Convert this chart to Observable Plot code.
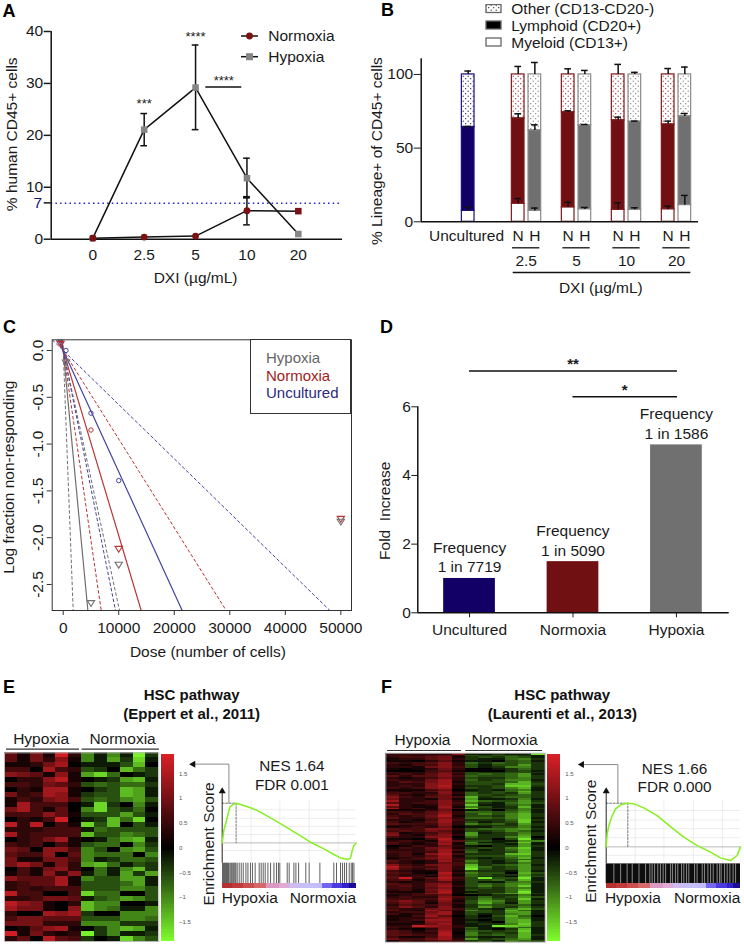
<!DOCTYPE html>
<html><head><meta charset="utf-8">
<script src="https://cdn.jsdelivr.net/npm/d3@7"></script>
<script src="https://cdn.jsdelivr.net/npm/@observablehq/plot@0.6"></script>
<style>
html,body{margin:0;padding:0;background:#fff}
#page{position:relative;width:744px;height:944px;overflow:hidden;font-family:'Liberation Sans',Arial,sans-serif;color:#1a1a1a}
.t{position:absolute;white-space:pre;line-height:18px}
.letter{position:absolute;font-weight:bold;font-size:18px;line-height:18px;color:#000}
.head{position:absolute;font-weight:bold;font-size:15px;line-height:19px;text-align:center;transform:translateX(-50%);white-space:pre;color:#111}
</style></head><body><div id="page"></div>
<script>
// ---------- Panel A ----------
const aDoses = ["0","2.5","5","10","20"];
const aNormoxia = [0.2,0.4,0.6,5.5,5.4];
const aHypoxia = [0.2,21.1,29.2,11.75,1.0];
const aHypoxiaLow = [null,18.0,21.1,8.0,null];
const aHypoxiaHigh = [null,24.2,37.4,15.6,null];
const aNormoxiaLow = [null,null,null,2.76,null];
const aNormoxiaHigh = [null,null,null,8.1,null];
const aStars = [{x:1,y:26.0,s:"***"},{x:2,y:39.0,s:"****"},{x:2.55,y:30.5,s:"****"}];
// ---------- Panel B ----------
const bPos = [0,3,4,6,7,9,10,12,13];
const bLetter = ["U","N","H","N","H","N","H","N","H"];
const bMyeloid = [7.4,12.2,7.4,9.7,8.4,8.1,8.1,8.4,11.3];
const bMyeloidErr = [9.9,15.8,9.3,13.3,9.7,12.9,9.5,10.6,17.9];
const bLymphTop = [64.3,70.1,62,74.2,65.4,68.8,67.9,66,71.5];
const bLymphErr = [64.7,73.3,65.8,75.3,66,71,68.3,68.3,73.5];
const bTotalErr = [102.3,105.4,108.1,103.8,102.7,106.8,101.4,104,105];
const bDoseCentres = [3.48,6.5,9.5,12.5];
const bDoseLabels = ["2.5","5","10","20"];
// ---------- Panel C ----------
const cGroups = ["Hypoxia","Normoxia","Uncultured"];
const cColors = {Hypoxia:"#707070",Normoxia:"#b83434",Uncultured:"#44449f"};
const cBottom = -2.778;
const cFitHypoxia = [4442,1800,10144];
const cFitNormoxia = [14046,6843,29350];
const cFitUncultured = [21430,9424,48019];
const cDose = [500,5000,10000,5000,10000,10000,5000,50000,50000,-480,500];
const cLogFrac = [0,-0.67,-1.39,-0.85,-2.12,-2.29,-2.7,-1.8,-1.83,0.07,-0.13];
const cGroupOf = ["Uncultured","Uncultured","Uncultured","Normoxia","Normoxia","Hypoxia","Hypoxia","Normoxia","Hypoxia","Normoxia","Hypoxia"];
const cShape = ["o","o","o","o","v","v","v","v","v","v","v"];
// ---------- Panel D ----------
const dNames = ["Uncultured","Normoxia","Hypoxia"];
const dFold = [1,1.49,4.89];
const dFreq = ["1 in 7719","1 in 5090","1 in 1586"];
const dColors = ["#120066","#701012","#707070"];
// ---------- Heat maps: level 0-9 per cell, red for the first six, green for the last six ----------
const heatE = ["415192|515192","415261|516281","112570|111370","330732|320742","654161|684012","022681|012671","332542|343442","021771|023761","523761|233761","132563|343563","173330|182051","573140|583240","333641|333631","021390|127480","828031|837031","222333|143333","723333|733543","023571|014671","323031|344052","540663|530563","433604|544405","511553|512443","575152|674132","031562|041572","131626|141626","644471|533661","234471|333461","232333|333553","833003|844003","223554|134653","865102|755001","755106|754115","200767|200555","355444|333554","555222|555222","014671|025761","915212|925112","240843|201853"];
const heatF = ["222226|112119","332342|323321","233451|232431","122452|211452","110241|110341","323462|424342","213362|313362","221563|312552","101252|001242","000341|000231","322353|322332","232462|343461","424463|433462","212352|322452","322572|423551","243571|333472","222672|332773","232681|223882","323671|323571","111350|121451","212461|223472","332262|423262","421351|432342","632453|723442","522151|611251","722362|743362","423363|521463","821262|811351","421171|531271","723163|822252","111250|120351","332462|443461","243472|353572","323581|332572","422462|443571","221373|222482","312472|312381","433362|534262","212261|222252","123250|113351","433662|344562","343541|323541","512351|612352","621462|622362","322660|422570","110381|220391","232174|331165","421361|511381","321271|432161","013252|102262","132561|232581","222473|312471","332371|422372","231683|222782","232471|333562","123572|212471","233463|322342","421272|521372","321253|421252","632563|723461","843362|842362","732462|932362","321161|322161","431082|533073","322271|432262","433072|422073","492483|393391","341372|334271","212341|311452","432561|343561","342572|353581","332461|232451","231571|322471","111481|122491","323671|324682","123350|012251","232263|242363","333372|253281","464261|365262","354152|374162","243351|243341","364261|263252","322563|321573","421742|532741","233571|332661","312671|312561","113740|203740","122561|212651","123771|102671","221661|210672","112571|122582","229762|119872","324562|412541","210261|310271","431371|432381","432280|523271","443381|534372","311371|311371","533572|623461","132343|231543"];
const colorTicks = [1.5,1,0.5,0,-0.5,-1,-1.5];
// ---------- GSEA ----------
const gseaRankE = [0,1.2,3.2,5.7,7.5,10.4,13.7,21.1,26.1,36.1,46,56,65.9,75.9,83.3,88.3,93.8,95.8,97,98.3,100];
const gseaEsE = [0,.187,.338,.54,.57,.6,.58,.53,.49,.378,.262,.136,.01,-.091,-.176,-.227,-.252,-.227,-.116,-.04,0];
const gseaHitsE = [0.2,1,1.7,2.5,3.2,4,4.7,5.7,6.5,7.2,8,8.7,9.5,10.2,11.2,12.7,14.2,15.7,17.7,19.2,21.1,22.6,24.6,27.6,29.1,30.6,32.1,34.1,36.1,38.6,40.5,42,43,48.5,50,53.5,55,57,62.4,64.9,72.9,83.3,85.3,88.3,89.8,91.3,92.8,94.8,96.3,97.3,98.3];
const gseaRankF = [0,.7,2,4.5,7,10.7,15.6,20.6,28,37.9,47.9,57.8,67.8,77.7,85.1,92.6,97.5,100];
const gseaEsF = [0,.179,.293,.43,.522,.577,.6,.591,.536,.43,.279,.133,.018,-.073,-.151,-.188,-.119,0];
const gseaGapsF = [5.7,10.7,15.6,19.4,24.4,29.3,32.5,34.2,36,38.4,40.4,42.4,44.2,47.9,49.4,51.6,53.3,56.1,57.8,59.8,61.5,65.8,67.7,71.5,73.2,75.7,77.7,79.7,82.6,84.4,85.6,88.1,90.1,92.1,94.5,96.3];
const stripEdges = [0,8,16,24,33,43,50,58,68,75,82,90,95,100];
const stripColors = ["#b5312f","#c03c3c","#c9504f","#d4686a","#dc98c0","#e0aad4","#cdbcf0","#c6bef6","#c2bcf8","#7466ee","#4a3ae0","#3322cc","#1b0c96"];

// ---------- helpers ----------
const page = document.getElementById("page");
const FONT = "'Liberation Sans',Arial,sans-serif";
const baseStyle = {fontFamily:FONT,fontSize:"15px",color:"#1a1a1a",background:"transparent",overflow:"visible"};
function put(node,x,y){node.style.position="absolute";node.style.left=x+"px";node.style.top=y+"px";page.appendChild(node);return node;}
function html(cls,x,y,txt,extra){const d=document.createElement("div");d.className=cls;d.style.left=x+"px";d.style.top=y+"px";d.textContent=txt;if(extra)Object.assign(d.style,extra);page.appendChild(d);return d;}
const FS = 15.5;
const downTri = {draw(c,size){const r=Math.sqrt(size/Math.PI)*1.15;c.moveTo(-r,-r*0.7);c.lineTo(r,-r*0.7);c.lineTo(0,r*0.9);c.closePath();}};

// ---------- A ----------
{
  const rows = aDoses.map((d,i)=>({i,n:aNormoxia[i],h:aHypoxia[i],hl:aHypoxiaLow[i],hh:aHypoxiaHigh[i],nl:aNormoxiaLow[i],nh:aNormoxiaHigh[i]}));
  const eh = rows.filter(d=>d.hl!=null), en = rows.filter(d=>d.nl!=null);
  const p = Plot.plot({width:372,height:300,marginLeft:50.7,marginRight:30,marginTop:31,marginBottom:61.3,style:baseStyle,
    x:{domain:[-0.81,4.86]},y:{domain:[0,40]},
    marks:[
      Plot.ruleY([6.93],{stroke:"#2323c8",strokeDasharray:"1.5,3.2",strokeWidth:1.5}),
      Plot.axisY({ticks:[0,7,10,20,30,40],tickFormat:d=>d===7?"":d,tickSize:7,tickPadding:1,tickStrokeWidth:1.5,strokeWidth:1.5,fontSize:FS,label:null,anchor:"left"}),
      Plot.text(["7"],{frameAnchor:"left",y:6.93,dx:-9,textAnchor:"end",fill:"#15156e",fontSize:FS}),
      Plot.axisX({ticks:[0,1,2,3,4],tickFormat:i=>aDoses[i],tickSize:0,tickPadding:10,fontSize:FS,label:null}),
      Plot.ruleX([-0.81],{y1:0,y2:40,strokeWidth:1.5,stroke:"#111"}),
      Plot.ruleY([0],{strokeWidth:1.5,stroke:"#111"}),
      Plot.line(rows,{x:"i",y:"h",stroke:"#111",strokeWidth:1.5}),
      Plot.line(rows,{x:"i",y:"n",stroke:"#111",strokeWidth:1.5}),
      Plot.ruleX(eh,{x:"i",y1:"hl",y2:"hh",stroke:"#111",strokeWidth:1.5}),
      Plot.ruleY(eh,{y:"hl",x1:d=>d.i-.065,x2:d=>d.i+.065,stroke:"#111",strokeWidth:1.5}),
      Plot.ruleY(eh,{y:"hh",x1:d=>d.i-.065,x2:d=>d.i+.065,stroke:"#111",strokeWidth:1.5}),
      Plot.ruleX(en,{x:"i",y1:"nl",y2:"nh",stroke:"#111",strokeWidth:1.5}),
      Plot.ruleY(en,{y:"nl",x1:d=>d.i-.065,x2:d=>d.i+.065,stroke:"#111",strokeWidth:1.5}),
      Plot.ruleY(en,{y:"nh",x1:d=>d.i-.065,x2:d=>d.i+.065,stroke:"#111",strokeWidth:2.5}),
      Plot.dot(rows,{x:"i",y:"h",symbol:"square",r:3.7,fill:"#858585"}),
      Plot.dot(rows.slice(0,4),{x:"i",y:"n",symbol:"circle",r:3.4,fill:"#7b1113"}),
      Plot.dot(rows.slice(4),{x:"i",y:"n",symbol:"square",r:3.7,fill:"#7b1113"}),
      Plot.text(aStars,{x:"x",y:"y",text:"s",fontSize:13,fill:"#222"}),
      Plot.ruleY([29.3],{x1:2.2,x2:2.9,stroke:"#111",strokeWidth:1.5}),
      Plot.text(["DXI (µg/mL)"],{x:2,y:0,dy:38.5,fontSize:FS}),
      Plot.text(["% human CD45+ cells"],{frameAnchor:"left",y:20.2,dx:-39,textAnchor:"middle",rotate:-90,fontSize:FS})
    ]});
  put(p,0,0);
  const s = d3.create("svg").attr("width",30).attr("height",40);
  s.append("line").attr("x1",1).attr("x2",18).attr("y1",6).attr("y2",6).attr("stroke","#111").attr("stroke-width",1.5);
  s.append("circle").attr("cx",9.5).attr("cy",6).attr("r",3.4).attr("fill","#7b1113");
  s.append("line").attr("x1",1).attr("x2",18).attr("y1",26.7).attr("y2",26.7).attr("stroke","#111").attr("stroke-width",1.5);
  s.append("rect").attr("x",6).attr("y",23.2).attr("width",7).attr("height",7).attr("fill","#858585");
  put(s.node(),240,30);
  html("t",268.3,27,"Normoxia",{fontSize:FS+"px"});
  html("t",268.3,47.5,"Hypoxia",{fontSize:FS+"px"});
}
// ---------- B ----------
function addDots(svg,id,color){
  const defs = d3.select(svg).insert("defs",":first-child");
  const pat = defs.append("pattern").attr("id",id).attr("width",5).attr("height",5).attr("patternUnits","userSpaceOnUse");
  pat.append("rect").attr("width",5).attr("height",5).attr("fill","#fff");
  pat.append("circle").attr("cx",1.2).attr("cy",1.2).attr("r",.6).attr("fill",color);
  pat.append("circle").attr("cx",3.7).attr("cy",3.7).attr("r",.6).attr("fill",color);
}
{
  const col = {U:"#120066",N:"#701012",H:"#707070"};
  const edge = {U:"#1a1080",N:"#7d1a1c",H:"#8a8a8a"};
  const dot = {U:"url(#dotU)",N:"url(#dotN)",H:"url(#dotH)"};
  const rows = bPos.map((x,i)=>({x,g:bLetter[i],my:bMyeloid[i],me:bMyeloidErr[i],ly:bLymphTop[i],le:bLymphErr[i],te:bTotalErr[i]}));
  const cap = k=>Plot.ruleY(rows,{y:k,x1:d=>d.x-.2,x2:d=>d.x+.2,stroke:"#111",strokeWidth:1.5});
  const nh = rows.slice(1);
  const p = Plot.plot({width:372,height:300,marginLeft:48.7,marginRight:46,marginTop:58.3,marginBottom:78.7,style:baseStyle,
    x:{domain:[-2.82,13.82],axis:null},y:{domain:[0,110.6]},color:{type:"identity"},
    marks:[
      Plot.rect(rows,{x1:d=>d.x-.38,x2:d=>d.x+.38,y1:"ly",y2:100,fill:d=>dot[d.g],stroke:d=>edge[d.g],strokeWidth:1.2}),
      Plot.rect(rows,{x1:d=>d.x-.38,x2:d=>d.x+.38,y1:"my",y2:"ly",fill:d=>col[d.g],stroke:d=>edge[d.g],strokeWidth:1.2}),
      Plot.rect(rows,{x1:d=>d.x-.38,x2:d=>d.x+.38,y1:0,y2:"my",fill:"#fff",stroke:d=>edge[d.g],strokeWidth:1.2}),
      Plot.ruleX(rows,{x:"x",y1:"my",y2:"me",stroke:"#111",strokeWidth:1.5}),
      Plot.ruleX(rows,{x:"x",y1:"ly",y2:"le",stroke:"#111",strokeWidth:1.5}),
      Plot.ruleX(rows,{x:"x",y1:100,y2:"te",stroke:"#111",strokeWidth:1.5}),
      cap("me"),cap("le"),cap("te"),
      Plot.axisY({ticks:[0,50,100],tickSize:7,tickPadding:1,tickStrokeWidth:1.5,fontSize:FS,label:null}),
      Plot.ruleX([-2.82],{strokeWidth:1.5,stroke:"#111"}),
      Plot.ruleY([0],{strokeWidth:1.5,stroke:"#111"}),
      Plot.text(["% Lineage+ of CD45+ cells"],{frameAnchor:"left",y:48,dx:-44,textAnchor:"middle",rotate:-90,fontSize:FS}),
      Plot.text(["Uncultured"],{x:-0.1,y:0,dy:14.7,fontSize:FS}),
      Plot.text(nh,{x:"x",y:0,dy:14.7,text:"g",fontSize:FS}),
      Plot.ruleY(bDoseCentres,{y:0,dy:26,x1:d=>d-.82,x2:d=>d+.82,stroke:"#111",strokeWidth:1.3}),
      Plot.text(bDoseLabels,{x:(d,i)=>bDoseCentres[i],y:0,dy:39.3,fontSize:FS}),
      Plot.ruleY([0],{dy:50.7,x1:2.7,x2:13.36,stroke:"#111",strokeWidth:1.3}),
      Plot.text(["DXI (µg/mL)"],{x:7.96,y:0,dy:66,fontSize:FS})
    ]});
  addDots(p,"dotU","#120066");addDots(p,"dotN","#a01416");addDots(p,"dotH","#707070");
  put(p,372,0);
  const sw = d3.create("svg").attr("width",18).attr("height",46);
  addDots(sw.node(),"dotK","#111");
  [["url(#dotK)",4.5],["#000",21],["#fff",38]].forEach(([f,y])=>sw.append("rect").attr("x",1).attr("y",y-4).attr("width",15).attr("height",8).attr("fill",f).attr("stroke","#666").attr("stroke-width",1.3));
  put(sw.node(),485,4);
  html("t",511.3,0,"Other (CD13-CD20-)",{fontSize:FS+"px"});
  html("t",511.3,16.7,"Lymphoid (CD20+)",{fontSize:FS+"px"});
  html("t",511.3,33.7,"Myeloid (CD13+)",{fontSize:FS+"px"});
}
// ---------- C ----------
{
  const fits = [["Hypoxia",cFitHypoxia],["Normoxia",cFitNormoxia],["Uncultured",cFitUncultured]]
    .flatMap(([g,a])=>a.map((xb,k)=>({g,xb,k})));
  const seg = f=>({x1:d=>-d.xb*0.114/2.778,x2:"xb",y1:0.114,y2:cBottom,stroke:d=>cColors[d.g],clip:true,...f});
  const pts = cDose.map((x,i)=>({x,y:cLogFrac[i],g:cGroupOf[i],s:cShape[i]}));
  const p = Plot.plot({width:372,height:345,marginLeft:51.7,marginRight:21,marginTop:24.3,marginBottom:50,style:baseStyle,
    x:{domain:[-1981,51920]},y:{domain:[cBottom,0.114]},color:{type:"identity"},
    marks:[
      Plot.link(fits.filter(d=>d.k===0),seg({strokeWidth:1.2})),
      Plot.link(fits.filter(d=>d.k>0),seg({strokeWidth:1,strokeDasharray:"3.5,2"})),
      Plot.dot(pts.filter(d=>d.s==="o"),{x:"x",y:"y",r:2.2,stroke:d=>cColors[d.g],fill:"none",strokeWidth:1}),
      Plot.dot(pts.filter(d=>d.s==="v"),{x:"x",y:"y",r:3.2,symbol:downTri,stroke:d=>cColors[d.g],fill:"none",strokeWidth:1.1}),
      Plot.frame({stroke:"#333",strokeWidth:1}),
      Plot.axisX({ticks:[0,10000,20000,30000,40000,50000],tickFormat:d=>String(d),tickSize:5,tickPadding:6,fontSize:FS,label:null,stroke:"#333"}),
      Plot.axisY({ticks:[0,-.5,-1,-1.5,-2,-2.5],tickFormat:d=>d.toFixed(1),tickSize:5,tickPadding:4,tickRotate:-90,fontSize:FS,label:null,stroke:"#333"}),
      Plot.text(["Dose (number of cells)"],{x:26050,y:cBottom,dy:41.7,fontSize:FS}),
      Plot.text(["Log fraction non-responding"],{frameAnchor:"left",y:-1.353,dx:-43.5,textAnchor:"middle",rotate:-90,fontSize:FS})
    ]});
  put(p,0,315);
  html("t",250,339.3,"",{width:"101px",height:"75px",border:"1px solid #333",background:"#fff",boxSizing:"border-box"});
  html("t",266,348.7,"Hypoxia",{fontSize:"15px",color:"#666"});
  html("t",266,366.7,"Normoxia",{fontSize:"15px",color:"#a31c20"});
  html("t",266,384.3,"Uncultured",{fontSize:"15px",color:"#2a2a80"});
}
// ---------- D ----------
{
  const rows = dNames.map((n,i)=>({i,n,v:dFold[i],f:"Frequency\n"+dFreq[i],c:dColors[i]}));
  const p = Plot.plot({width:372,height:345,marginLeft:45.3,marginRight:15.3,marginTop:91.3,marginBottom:47.7,style:baseStyle,
    x:{domain:[-0.5,2.51]},y:{domain:[0,6]},color:{type:"identity"},
    marks:[
      Plot.rect(rows,{x1:d=>d.i-.25,x2:d=>d.i+.25,y1:0,y2:"v",fill:"c"}),
      Plot.axisY({ticks:[0,2,4,6],tickFormat:d=>String(d),tickSize:6,tickPadding:1,tickStrokeWidth:1.5,fontSize:FS,label:null}),
      Plot.axisX({ticks:[0,1,2],tickFormat:i=>dNames[i],tickSize:5,tickStrokeWidth:1.5,tickPadding:6,fontSize:FS,label:null}),
      Plot.ruleX([-0.5],{y1:0,y2:6,strokeWidth:1.5,stroke:"#111"}),
      Plot.ruleY([0],{strokeWidth:1.5,stroke:"#111"}),
      Plot.text(rows,{x:"i",y:"v",text:"f",lineAnchor:"bottom",lineHeight:1.27,dy:-6,fontSize:FS}),
      Plot.ruleY([7.04],{x1:0,x2:2.01,stroke:"#111",strokeWidth:1.5}),
      Plot.ruleY([6.29],{x1:1,x2:2.01,stroke:"#111",strokeWidth:1.5}),
      Plot.text(["**"],{x:1,y:7.25,fontSize:15,fontWeight:"bold"}),
      Plot.text(["*"],{x:1.5,y:6.48,fontSize:15,fontWeight:"bold"}),
      Plot.text(["Fold  Increase"],{frameAnchor:"left",y:2.97,dx:-33,textAnchor:"middle",rotate:-90,fontSize:FS,style:{whiteSpace:"pre"}})
    ]});
  put(p,372,315);
}
// ---------- E / F heat maps ----------
const heatCells = (rows,k) => rows.flatMap((s,r)=>[...s.replace("|","")].map((ch,c)=>({r,c,v:(c<6?1:-1)*(+ch)*k})));
const heatColor = {type:"linear",domain:[-1.9,0,1.9],range:["#80ff2e","#000000","#dc2026"],clamp:true};
function heat(rows,o){
  const n = rows.length;
  const p = Plot.plot({width:o.W,height:944-725,marginLeft:o.L,marginRight:o.W-o.R,marginTop:o.T-725,marginBottom:944-o.B,style:baseStyle,
    x:{domain:[0,12],axis:null},y:{domain:[0,n],reverse:true,axis:null},color:heatColor,
    marks:[
      Plot.rect(heatCells(rows,o.k),{x1:"c",x2:d=>d.c+1,y1:"r",y2:d=>d.r+1,fill:"v",shapeRendering:"crispEdges"}),
      Plot.frame({stroke:"#b8b8b8",strokeWidth:1}),
      Plot.text(["Hypoxia"],{x:o.hx,y:0,dy:o.ty,fontSize:FS}),
      Plot.text(["Normoxia"],{x:o.nx,y:0,dy:o.ty,fontSize:FS}),
      Plot.ruleY([0],{dy:o.ly,x1:o.h1,x2:o.h2,stroke:"#333",strokeWidth:1.2}),
      Plot.ruleY([0],{dy:o.ly,x1:o.n1,x2:o.n2,stroke:"#333",strokeWidth:1.2})
    ]});
  d3.select(p).select('g[aria-label="rect"]').style("filter","blur(0.45px)");
  put(p,o.X,725);
}
heat(heatE,{k:0.2,X:0,W:160,L:4,R:158.3,T:752.3,B:941,hx:2.85,nx:9.18,ty:-13.3,ly:-3.6,h1:.16,h2:5.83,n1:6.04,n2:12.05});
heat(heatF,{k:0.19,X:372,W:180,L:13.3,R:172.7,T:752.7,B:941.7,hx:2.76,nx:8.94,ty:-12.7,ly:-2.7,h1:.13,h2:5.7,n1:6.02,n2:11.8});
function colorbar(x0,x1,x){
  const levels = d3.range(-1.9,1.9,0.05);
  const p = Plot.plot({width:40,height:199,marginLeft:x0-x,marginRight:40-(x1-x),marginTop:8.3,marginBottom:2.3,style:baseStyle,
    x:{domain:[0,1],axis:null},y:{domain:[-1.905,1.905]},color:heatColor,
    marks:[
      Plot.rect(levels,{x1:0,x2:1,y1:d=>d,y2:d=>d+.05,fill:d=>d+.025,shapeRendering:"crispEdges"}),
      Plot.axisY({anchor:"right",ticks:colorTicks,tickSize:0,tickPadding:4.5,fontSize:6,label:null,color:"#555",tickFormat:d3.format("")})
    ]});
  put(p,x,745);
}
colorbar(160.7,174,155);
colorbar(547,560.3,542);
// ---------- GSEA ----------
function gsea(o){
  const curve = o.rank.map((x,i)=>({x,y:o.es[i]}));
  const [b0,b1,b2] = o.band;
  const bandRects = stripColors.map((c,i)=>({x1:stripEdges[i],x2:stripEdges[i+1],c}));
  const marks = [
    Plot.ruleY(o.gridY,{x1:0,x2:100,stroke:"#e9e9e9",strokeWidth:.8}),
    Plot.ruleX([21.6,43,64.9,86.5],{y1:b0,y2:o.peak+.03,stroke:"#e9e9e9",strokeWidth:.8}),
    Plot.ruleY([0],{x1:0,x2:100,stroke:"#bbb",strokeWidth:1}),
    Plot.line([{x:0,y:o.peak},{x:o.peakX,y:o.peak},{x:o.peakX,y:0}],{x:"x",y:"y",stroke:"#777",strokeWidth:1,strokeDasharray:"2,1.5"}),
  ];
  if(o.base) marks.push(Plot.rect([0],{x1:0,x2:100,y1:b1,y2:b0,fill:"#0d0d0d"}));
  marks.push(
    Plot.ruleX(o.hits,{y1:b1,y2:b0,stroke:o.hitColor,strokeWidth:o.hitW,strokeOpacity:o.hitOp}),
    Plot.rect(bandRects,{x1:"x1",x2:"x2",y1:b2,y2:b1,fill:"c",shapeRendering:"crispEdges"}),
    Plot.ruleX([0],{y1:b0,y2:o.top,stroke:"#222",strokeWidth:1}),
    Plot.dot([0],{x:0,y:o.top,symbol:"triangle",r:2.6,fill:"#111"}),
    Plot.line([{x:o.armX,y:o.peak},{x:o.armX,y:o.armY},{x:o.tipX,y:o.armY}],{x:"x",y:"y",stroke:"#8a8a8a",strokeWidth:1}),
    Plot.dot([0],{x:o.tipX,y:o.armY,symbol:"triangle",rotate:-90,r:2.6,fill:"#111"}),
    Plot.line(curve,{x:"x",y:"y",stroke:"#86f020",strokeWidth:1.5}),
    Plot.text(["Hypoxia"],{x:o.hx,y:b2,dy:9.8,fontSize:FS}),
    Plot.text(["Normoxia"],{x:o.nx,y:b2,dy:10.2,fontSize:FS}),
    Plot.text(["Enrichment Score"],{frameAnchor:"left",y:o.eY,dx:o.eDx,textAnchor:"middle",rotate:-90,fontSize:FS}),
    Plot.text([o.nes],{x:o.tx,y:o.t1,fontSize:15.3}),
    Plot.text([o.fdr],{x:o.tx,y:o.t2,fontSize:15.3})
  );
  const p = Plot.plot({width:o.W,height:194,marginLeft:o.L,marginRight:o.Rm,marginTop:40.7,marginBottom:56.3,style:baseStyle,
    x:{domain:[0,100],axis:null},y:{domain:[b2,o.top],axis:null},color:{type:"identity"},marks});
  put(p,o.X,750);
}
gsea({X:190,W:180,L:31.7,Rm:14.3,rank:gseaRankE,es:gseaEsE,band:[-.307,-.62,-.685],top:.781,peak:.6,peakX:10.4,
  gridY:[.5,.37,.25,.126,-.116],hits:gseaHitsE,hitColor:"#222",hitW:1,hitOp:.72,base:false,
  armX:5,armY:1.19,tipX:-21.6,hx:20.6,nx:75.1,eY:-.015,eDx:-13.3,nes:"NES 1.64",fdr:"FDR 0.001",tx:52,t1:1.154,t2:.872});
gsea({X:570,W:174,L:35.7,Rm:4,rank:gseaRankF,es:gseaEsF,band:[-.234,-.508,-.568],top:.765,peak:.6,peakX:16.1,
  gridY:[.5,.37,.25,.126,-.116],hits:gseaGapsF,hitColor:"#ddd",hitW:1.1,hitOp:.55,base:true,
  armX:8.7,armY:1.131,tipX:-18.1,hx:19.9,nx:75.2,eY:.078,eDx:-14.7,nes:"NES 1.66",fdr:"FDR 0.000",tx:50.9,t1:1.072,t2:.82});
// ---------- letters and headings ----------
[["A",2.5,2],["B",381,1],["C",3,318],["D",380,318],["E",3,678],["F",381,678]].forEach(([t,x,y])=>html("letter",x,y,t));
html("head",191.7,684.5,"HSC pathway\n(Eppert et al., 2011)");
html("head",562.3,684.5,"HSC pathway\n(Laurenti et al., 2013)");
</script></body></html>
